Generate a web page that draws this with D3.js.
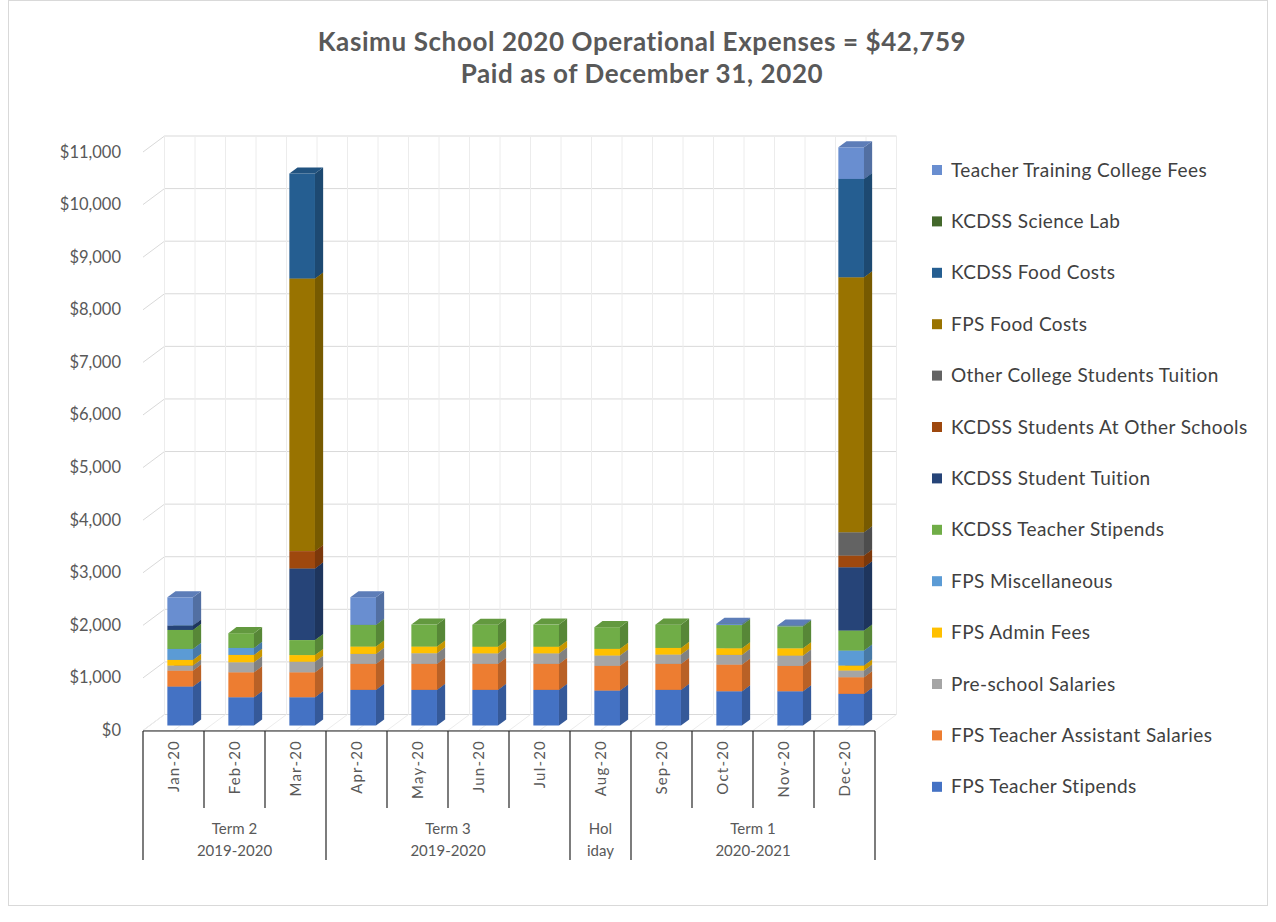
<!DOCTYPE html>
<html>
<head>
<meta charset="utf-8">
<title>Kasimu School 2020 Operational Expenses</title>
<style>
  body, html { margin: 0; padding: 0; background: #fff; }
  svg text { font-family: Lato, "Open Sans", sans-serif; }
</style>
</head>
<body>
<svg id="svg" width="1276" height="922"></svg>
<script src="https://cdn.jsdelivr.net/npm/d3@7"></script>
<script>
const months = ['Jan-20','Feb-20','Mar-20','Apr-20','May-20','Jun-20','Jul-20','Aug-20','Sep-20','Oct-20','Nov-20','Dec-20']

// series, bottom of the stack first
const seriesNames = [
  'FPS Teacher Stipends', 'FPS Teacher Assistant Salaries', 'Pre-school Salaries', 'FPS Admin Fees',
  'FPS Miscellaneous', 'KCDSS Teacher Stipends', 'KCDSS Student Tuition', 'KCDSS Students At Other Schools',
  'Other College Students Tuition', 'FPS Food Costs', 'KCDSS Food Costs', 'KCDSS Science Lab',
  'Teacher Training College Fees'
]
const seriesColors = ['#4472C4','#ED7D31','#A5A5A5','#FFC000','#5B9BD5','#70AD47','#264478','#9E480E','#636363','#997300','#255E91','#43682B','#698ED0']

const fpsTeacherStipends   = [741, 538, 538, 678, 678, 678, 678, 665, 678, 652, 652, 602]
const fpsAssistantSalaries = [304, 475, 475, 494, 494, 494, 494, 470, 494, 507, 481, 317]
const preschoolSalaries    = [95, 190, 200, 190, 203, 200, 200, 196, 177, 184, 196, 127]
const fpsAdminFees         = [108, 140, 127, 140, 127, 127, 127, 127, 127, 127, 140, 95]
const fpsMisc              = [209, 133, 0, 0, 0, 0, 0, 0, 0, 0, 0, 285]
const kcdssTeacherStipends = [361, 280, 285, 412, 418, 418, 420, 412, 442, 441, 418, 380]
const kcdssStudentTuition  = [82, 0, 1362, 0, 0, 0, 0, 0, 0, 0, 0, 1204]
const kcdssOtherSchools    = [0, 0, 330, 0, 0, 0, 0, 0, 0, 0, 0, 222]
const otherCollegeTuition  = [0, 0, 0, 0, 0, 0, 0, 0, 0, 0, 0, 443]
const fpsFoodCosts         = [0, 0, 5184, 0, 0, 0, 0, 0, 0, 0, 0, 4848]
const kcdssFoodCosts       = [0, 0, 1996, 0, 0, 0, 0, 0, 0, 0, 0, 1870]
const kcdssScienceLab      = [0, 0, 0, 0, 0, 0, 0, 0, 0, 0, 0, 0]
const ttcFees              = [538, 0, 0, 526, 0, 0, 0, 0, 0, 25, 15, 602]

const seriesValues = [fpsTeacherStipends, fpsAssistantSalaries, preschoolSalaries, fpsAdminFees, fpsMisc,
  kcdssTeacherStipends, kcdssStudentTuition, kcdssOtherSchools, otherCollegeTuition, fpsFoodCosts,
  kcdssFoodCosts, kcdssScienceLab, ttcFees]

const yTicks = d3.range(0, 11001, 1000)

const groups = [
  { lines: ['Term 2', '2019-2020'], from: 0, to: 2 },
  { lines: ['Term 3', '2019-2020'], from: 3, to: 6 },
  { lines: ['Hol', 'iday'], from: 7, to: 7 },
  { lines: ['Term 1', '2020-2021'], from: 8, to: 11 }
]

const svg = d3.select('#svg')

// chart frame
svg.append('rect')
  .attr('x', 8.5).attr('y', 0.5).attr('width', 1259).attr('height', 905)
  .attr('fill', 'none').attr('stroke', '#d9d9d9')

// title
svg.append('text').attr('x', 642).attr('y', 51).attr('text-anchor', 'middle')
  .attr('font-size', 26).attr('font-weight', 'bold').attr('letter-spacing', 0.6).attr('fill', '#595959')
  .text('Kasimu School 2020 Operational Expenses = $42,759')
svg.append('text').attr('x', 642).attr('y', 83).attr('text-anchor', 'middle')
  .attr('font-size', 26).attr('font-weight', 'bold').attr('letter-spacing', 0.6).attr('fill', '#595959')
  .text('Paid as of December 31, 2020')

// front plane scales, depth goes back by (DX, DY)
const xScale = d3.scaleBand().domain(months).range([143, 875])
const yScale = d3.scaleLinear().domain([0, 11000]).range([730.5, 152])
const DX = 21.5, DY = -16
const proj = (x, v, d) => [x + DX * d, yScale(v) + DY * d]
const poly = pts => 'M' + pts.map(p => p.join(',')).join('L') + 'Z'

const grid = svg.append('g').attr('stroke', '#d9d9d9').attr('fill', 'none')

// back wall horizontal gridlines + side wall diagonals
yTicks.forEach(v => {
  const a = proj(143, v, 0), b = proj(143, v, 1), c = proj(875, v, 1)
  grid.append('path').attr('d', `M${a}L${b}L${c}`)
})
// back wall vertical lines, every half band
d3.range(0, 25).forEach(k => {
  const x = 143 + k * xScale.bandwidth() / 2
  const t = proj(x, 11000, 1), b = proj(x, 0, 1), f = proj(x, 0, 0)
  grid.append('path').attr('d', `M${t}L${b}`).attr('stroke', '#ececec')
  grid.append('path').attr('d', `M${b}L${f}`).attr('stroke', '#ececec')
})
grid.append('path').attr('d', `M${proj(143, 0, 0)}L${proj(875, 0, 0)}`)

// y axis labels
svg.append('g').selectAll('text').data(yTicks).join('text')
  .attr('x', 121).attr('y', d => yScale(d) + 5.5)
  .attr('text-anchor', 'end').attr('font-size', 16.5).attr('fill', '#595959')
  .text(d3.format('$,'))

// stacked 3D bars
const table = months.map((m, i) => {
  const row = { month: m }
  seriesNames.forEach((s, j) => { row[s] = seriesValues[j][i] })
  return row
})
const stacked = d3.stack().keys(seriesNames)(table)

const barW = xScale.bandwidth() * 0.42
const d0 = 0.31, d1 = 0.69
const bars = svg.append('g')
months.forEach((m, i) => {
  const x0 = xScale(m) + (xScale.bandwidth() - barW) / 2
  const x1 = x0 + barW
  stacked.forEach((layer, j) => {
    const [lo, hi] = layer[i]
    if (hi - lo <= 0) return
    const col = d3.color(seriesColors[j])
    // front face
    bars.append('path').attr('fill', col)
      .attr('d', poly([proj(x0, lo, d0), proj(x1, lo, d0), proj(x1, hi, d0), proj(x0, hi, d0)]))
    // side face
    bars.append('path').attr('fill', col.darker(0.7))
      .attr('d', poly([proj(x1, lo, d0), proj(x1, lo, d1), proj(x1, hi, d1), proj(x1, hi, d0)]))
    // top face
    bars.append('path').attr('fill', col.darker(0.35))
      .attr('d', poly([proj(x0, hi, d0), proj(x1, hi, d0), proj(x1, hi, d1), proj(x0, hi, d1)]))
  })
})

// category table below the axis
const tab = svg.append('g').attr('stroke', '#262626').attr('stroke-width', 1.2)
tab.append('line').attr('x1', 143).attr('x2', 875).attr('y1', 731).attr('y2', 731)
months.forEach((m, i) => {
  if (i === 0) return
  const isGroupEdge = groups.some(g => g.from === i)
  tab.append('line').attr('x1', xScale(m)).attr('x2', xScale(m))
    .attr('y1', 731).attr('y2', isGroupEdge ? 860 : 808)
})
tab.append('line').attr('x1', 143).attr('x2', 143).attr('y1', 731).attr('y2', 860)
tab.append('line').attr('x1', 875).attr('x2', 875).attr('y1', 731).attr('y2', 860)

svg.append('g').selectAll('text').data(months).join('text')
  .attr('transform', d => `translate(${xScale(d) + xScale.bandwidth() / 2 + 5.5},740) rotate(-90)`)
  .attr('text-anchor', 'end').attr('font-size', 15).attr('letter-spacing', 1.2).attr('fill', '#595959')
  .text(d => d)

groups.forEach(g => {
  const cx = (xScale(months[g.from]) + xScale(months[g.to]) + xScale.bandwidth()) / 2
  g.lines.forEach((t, k) => {
    svg.append('text').attr('x', cx).attr('y', 834 + k * 22).attr('text-anchor', 'middle')
      .attr('font-size', 15).attr('fill', '#595959').text(t)
  })
})

// legend, top to bottom is the reverse of the stack
const legend = svg.append('g')
seriesNames.slice().reverse().forEach((s, k) => {
  const j = seriesNames.length - 1 - k
  const y = 170 + k * 51.4
  legend.append('rect').attr('x', 932).attr('y', y - 5).attr('width', 10).attr('height', 10)
    .attr('fill', seriesColors[j])
  legend.append('text').attr('x', 951).attr('y', y + 6.5).attr('font-size', 19)
    .attr('letter-spacing', 0.4).attr('fill', '#404040').text(s)
})
</script>
</body>
</html>
